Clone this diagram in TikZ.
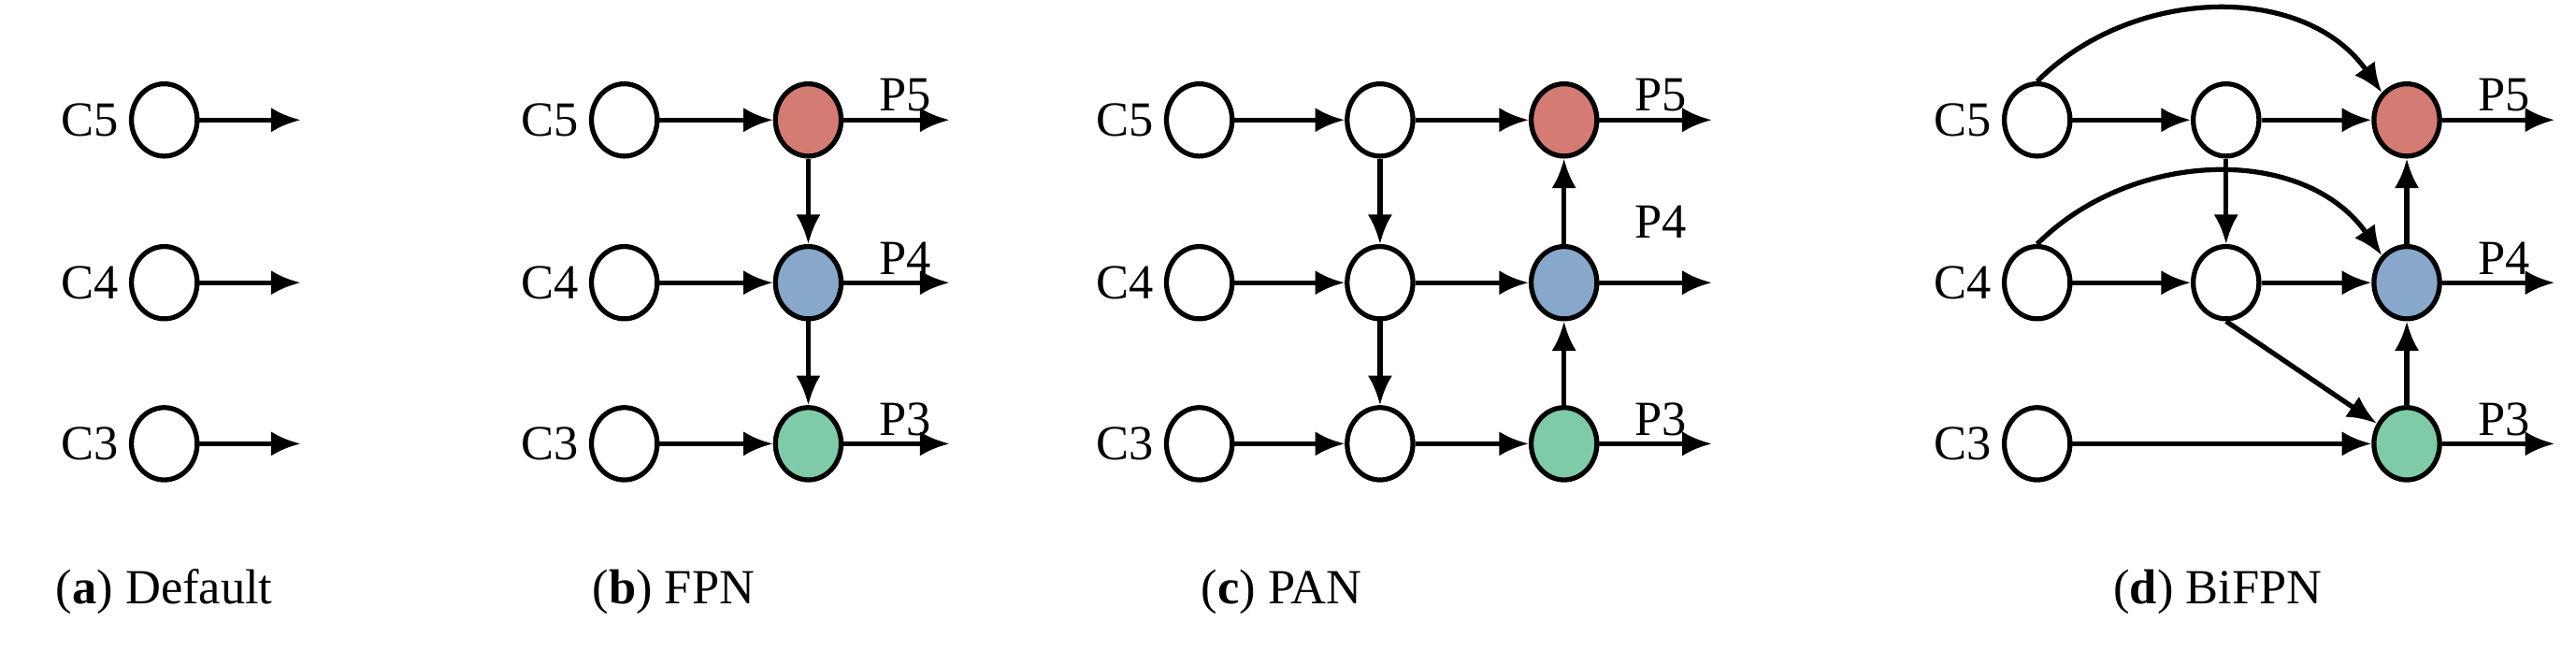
\documentclass[tikz,border=0pt]{standalone}
\usepackage{fontspec}
\setmainfont{Liberation Serif}
\usetikzlibrary{arrows.meta}
\usetikzlibrary{shapes.geometric}
\definecolor{pred}{RGB}{212,123,116}
\definecolor{pblue}{RGB}{136,168,203}
\definecolor{pgreen}{RGB}{127,203,168}
\tikzset{
    feat/.style={draw, line width=1.7pt, ellipse, minimum width=0.8cm, minimum height=0.88cm, inner sep=0pt, fill=white},
    lbl/.style={font=\fontsize{17}{17}\selectfont},
    subcap/.style={font=\fontsize{17}{17}\selectfont},
    flow/.style={line width=1.7pt, -{Latex[length=0.36cm, width=0.3cm]}},
}
\begin{document}
\begin{tikzpicture}[x=0.02cm, y=-0.02cm]
    \useasboundingbox (0,0) rectangle (1568,396);

    % (a) Default
    \node[feat] (a5) at (100,73) {};
    \node[feat] (a4) at (100,172) {};
    \node[feat] (a3) at (100,270) {};
    \node[lbl, left] at (a5.west) {C5};
    \node[lbl, left] at (a4.west) {C4};
    \node[lbl, left] at (a3.west) {C3};
    \coordinate (ao5) at (183,73);
    \coordinate (ao4) at (183,172);
    \coordinate (ao3) at (183,270);
    \draw[flow] (a5) -- (ao5);
    \draw[flow] (a4) -- (ao4);
    \draw[flow] (a3) -- (ao3);
    \node[subcap] at (100,360) {(\textbf{a}) Default};

    % (b) FPN
    \node[feat] (b5) at (380,73) {};
    \node[feat] (b4) at (380,172) {};
    \node[feat] (b3) at (380,270) {};
    \node[feat, fill=pred] (bp5) at (492,73) {};
    \node[feat, fill=pblue] (bp4) at (492,172) {};
    \node[feat, fill=pgreen] (bp3) at (492,270) {};
    \node[lbl, left] at (b5.west) {C5};
    \node[lbl, left] at (b4.west) {C4};
    \node[lbl, left] at (b3.west) {C3};
    \node[lbl] at (551,58) {P5};
    \node[lbl] at (551,157) {P4};
    \node[lbl] at (551,255) {P3};
    \coordinate (bo5) at (578,73);
    \coordinate (bo4) at (578,172);
    \coordinate (bo3) at (578,270);
    \draw[flow] (b5) -- (bp5);
    \draw[flow] (b4) -- (bp4);
    \draw[flow] (b3) -- (bp3);
    \draw[flow] (bp5) -- (bp4);
    \draw[flow] (bp4) -- (bp3);
    \draw[flow] (bp5) -- (bo5);
    \draw[flow] (bp4) -- (bo4);
    \draw[flow] (bp3) -- (bo3);
    \node[subcap] at (410,360) {(\textbf{b}) FPN};

    % (c) PAN
    \node[feat] (c5) at (730,73) {};
    \node[feat] (c4) at (730,172) {};
    \node[feat] (c3) at (730,270) {};
    \node[feat] (m5) at (840,73) {};
    \node[feat] (m4) at (840,172) {};
    \node[feat] (m3) at (840,270) {};
    \node[feat, fill=pred] (cp5) at (952,73) {};
    \node[feat, fill=pblue] (cp4) at (952,172) {};
    \node[feat, fill=pgreen] (cp3) at (952,270) {};
    \node[lbl, left] at (c5.west) {C5};
    \node[lbl, left] at (c4.west) {C4};
    \node[lbl, left] at (c3.west) {C3};
    \node[lbl] at (1011,58) {P5};
    \node[lbl] at (1011,135) {P4};
    \node[lbl] at (1011,255) {P3};
    \coordinate (co5) at (1042,73);
    \coordinate (co4) at (1042,172);
    \coordinate (co3) at (1042,270);
    \draw[flow] (c5) -- (m5);
    \draw[flow] (c4) -- (m4);
    \draw[flow] (c3) -- (m3);
    \draw[flow] (m5) -- (m4);
    \draw[flow] (m4) -- (m3);
    \draw[flow] (m5) -- (cp5);
    \draw[flow] (m4) -- (cp4);
    \draw[flow] (m3) -- (cp3);
    \draw[flow] (cp3) -- (cp4);
    \draw[flow] (cp4) -- (cp5);
    \draw[flow] (cp5) -- (co5);
    \draw[flow] (cp4) -- (co4);
    \draw[flow] (cp3) -- (co3);
    \node[subcap] at (780,360) {(\textbf{c}) PAN};

    % (d) BiFPN
    \node[feat] (d5) at (1240,73) {};
    \node[feat] (d4) at (1240,172) {};
    \node[feat] (d3) at (1240,270) {};
    \node[feat] (n5) at (1355,73) {};
    \node[feat] (n4) at (1355,172) {};
    \node[feat, fill=pred] (dp5) at (1465,73) {};
    \node[feat, fill=pblue] (dp4) at (1465,172) {};
    \node[feat, fill=pgreen] (dp3) at (1465,270) {};
    \node[lbl, left] at (d5.west) {C5};
    \node[lbl, left] at (d4.west) {C4};
    \node[lbl, left] at (d3.west) {C3};
    \node[lbl] at (1524,58) {P5};
    \node[lbl] at (1524,157) {P4};
    \node[lbl] at (1524,255) {P3};
    \coordinate (do5) at (1555,73);
    \coordinate (do4) at (1555,172);
    \coordinate (do3) at (1555,270);
    \draw[flow] (d5) -- (n5);
    \draw[flow] (d4) -- (n4);
    \draw[flow] (d3) -- (dp3);
    \draw[flow] (n5) -- (n4);
    \draw[flow] (n5) -- (dp5);
    \draw[flow] (n4) -- (dp4);
    \draw[flow] (n4.south) -- (dp3);
    \draw[flow] (d5.north) to[out=45, in=125] (dp5.north west);
    \draw[flow] (d4.north) to[out=45, in=125] (dp4.north west);
    \draw[flow] (dp3) -- (dp4);
    \draw[flow] (dp4) -- (dp5);
    \draw[flow] (dp5) -- (do5);
    \draw[flow] (dp4) -- (do4);
    \draw[flow] (dp3) -- (do3);
    \node[subcap] at (1350,360) {(\textbf{d}) BiFPN};
\end{tikzpicture}
\end{document}
